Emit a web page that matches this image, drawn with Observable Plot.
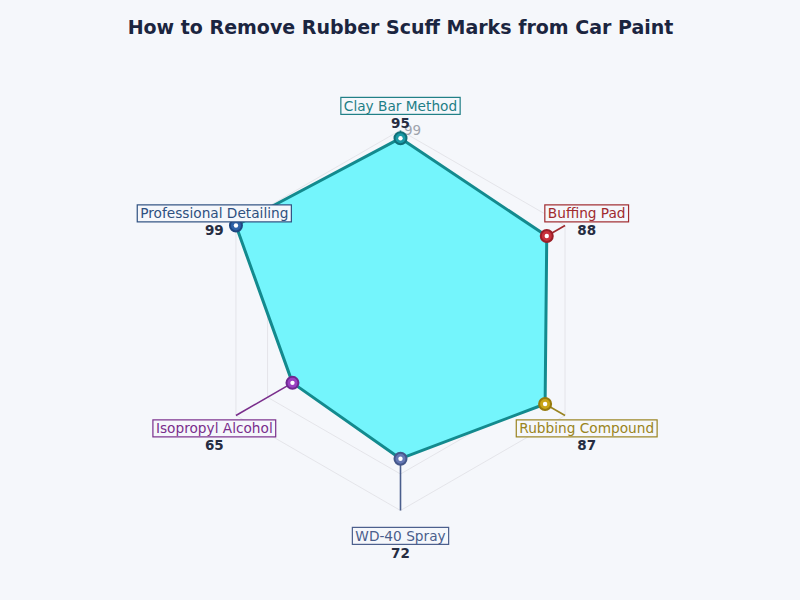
<!DOCTYPE html>
<html>
<head>
<meta charset="utf-8">
<script src="https://cdn.jsdelivr.net/npm/d3@7"></script>
<script src="https://cdn.jsdelivr.net/npm/@observablehq/plot@0.6"></script>
<style>
  html, body { margin: 0; padding: 0; background: #f5f7fb; }
  svg { display: block; }
</style>
</head>
<body>
<script>
const chartTitle = "How to Remove Rubber Scuff Marks from Car Paint";
const categories = ["Clay Bar Method", "Buffing Pad", "Rubbing Compound", "WD-40 Spray", "Isopropyl Alcohol", "Professional Detailing"];
const values = [95, 88, 87, 72, 65, 99];
const ringTicks = [20, 40, 60, 80, 99];
const maxValue = 99;
const pointColors = ["#1a9aa6", "#c8323c", "#c9a516", "#6577b3", "#9a40c2", "#2e62a8"];
const pointStrokes = ["#0f6f78", "#9a1f28", "#967a0c", "#44578a", "#6e2890", "#1e4680"];
const labelColors = ["#1e7e86", "#a02a2e", "#9a8420", "#4a5e8c", "#7a2e8c", "#2e5080"];

const n = categories.length;
const pxPerUnit = 190 / maxValue;
const labelR = 215 / pxPerUnit;
const angle = i => (i * 2 * Math.PI) / n;
const px = (r, i) => r * Math.sin(angle(i));
const py = (r, i) => r * Math.cos(angle(i));

const pts = categories.map((c, i) => ({
  cat: c, value: values[i], i,
  x: px(values[i], i), y: py(values[i], i),
  ox: px(maxValue, i), oy: py(maxValue, i),
  lx: px(labelR, i), ly: py(labelR, i),
  fill: pointColors[i], stroke: pointStrokes[i], label: labelColors[i]
}));

const rings = [];
ringTicks.forEach(t => {
  for (let i = 0; i < n; i++) rings.push({t, x: px(t, i), y: py(t, i)});
});
const tickLabels = ringTicks.map(t => ({t, x: 0, y: t}));

const chart = Plot.plot({
  width: 800,
  height: 600,
  margin: 0,
  style: {fontFamily: "DejaVu Sans, sans-serif", background: "#f5f7fb"},
  x: {domain: [-400 / pxPerUnit, 400 / pxPerUnit], range: [0, 800], axis: null},
  y: {domain: [-280 / pxPerUnit, 320 / pxPerUnit], range: [600, 0], axis: null},
  marks: [
    Plot.text([chartTitle], {frameAnchor: "top", dy: 27, text: d => d, fontSize: 19, fontWeight: "bold", fill: "#1b2540", lineAnchor: "middle"}),
    Plot.line(rings, {x: "x", y: "y", z: "t", curve: "linear-closed", stroke: "#dfe0e5", strokeWidth: 0.8}),
    Plot.link(pts, {x1: 0, y1: 0, x2: "ox", y2: "oy", stroke: "#dfe0e5", strokeWidth: 0.8}),
    Plot.text(tickLabels, {x: "x", y: "y", text: d => String(d.t), dx: 12, fontSize: 13.5, fill: "#9ea3ad", lineAnchor: "middle"}),
    Plot.line(pts, {x: "x", y: "y", curve: "linear-closed", fill: "#74f5fc", stroke: "#138a8e", strokeWidth: 3, strokeLinejoin: "round"}),
    Plot.link(pts, {x1: "x", y1: "y", x2: "ox", y2: "oy", stroke: d => d.label, strokeWidth: 1.6}),
    Plot.dot(pts, {x: "x", y: "y", r: 6, fill: d => d.fill, stroke: d => d.stroke, strokeWidth: 2}),
    Plot.dot(pts, {x: "x", y: "y", r: 2.2, fill: "white"}),
    Plot.text(pts, {x: "lx", y: "ly", text: "cat", dy: 1, fontSize: 13.7, fill: d => d.label, lineAnchor: "middle", className: "cat-label"}),
    Plot.text(pts, {x: "lx", y: "ly", text: d => String(d.value), dy: 18, fontSize: 13.5, fontWeight: "bold", fill: "#262d42", lineAnchor: "middle"})
  ]
});
document.body.append(chart);

// boxes around category labels
chart.querySelectorAll("g.cat-label text").forEach(t => {
  const b = t.getBBox();
  const r = document.createElementNS("http://www.w3.org/2000/svg", "rect");
  r.setAttribute("x", b.x - 3);
  r.setAttribute("y", b.y - 0.5);
  r.setAttribute("width", b.width + 6);
  r.setAttribute("height", b.height + 1);
  r.setAttribute("fill", "#f5f7fb");
  r.setAttribute("stroke", t.getAttribute("fill"));
  r.setAttribute("stroke-width", "1.2");
  if (t.getAttribute("transform")) r.setAttribute("transform", t.getAttribute("transform"));
  t.parentNode.insertBefore(r, t);
});
</script>
</body>
</html>
